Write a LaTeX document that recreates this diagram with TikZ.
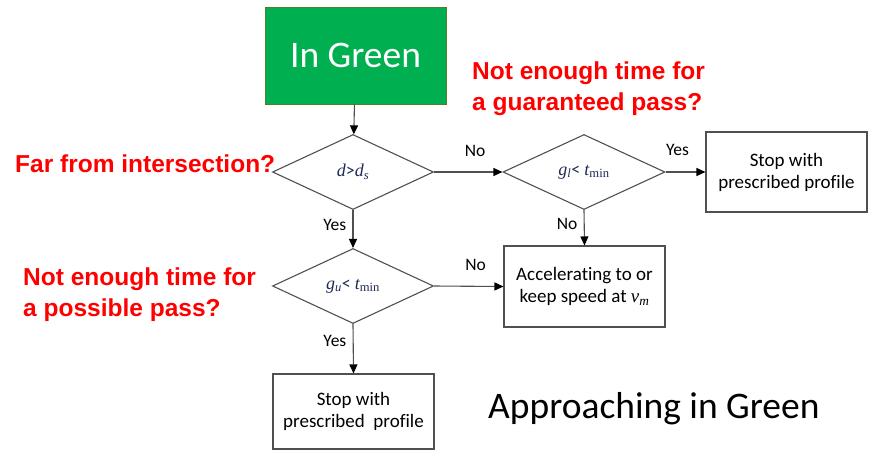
\documentclass[tikz,border=0pt]{standalone}
\usepackage{fontspec}
\setmainfont{Carlito}[Ligatures=NoCommon]
\newfontfamily\tms{Liberation Serif}
\newfontfamily\arialbold{Liberation Sans}[BoldFont=* Bold]
\usetikzlibrary{shapes.geometric,arrows.meta}

\definecolor{boxgreen}{HTML}{00B050}
\definecolor{greenedge}{HTML}{507E32}
\definecolor{edgegray}{HTML}{505050}
\definecolor{mathnavy}{HTML}{1F2A55}
\definecolor{notered}{HTML}{FF0000}

% italic Times-like variable, optional subscript
\newcommand{\vr}[1]{{\tms\itshape #1}}
\newcommand{\vsub}[1]{\textsubscript{\tms\itshape #1}}
\newcommand{\tmin}{\vr{t}\textsubscript{\tms min}}

\tikzset{
  decision/.style={draw=edgegray, line width=1.1pt, diamond, inner sep=0pt,
    minimum width=#1, minimum height=75pt, font=\fontsize{18}{20}\selectfont\color{mathnavy}},
  decision/.default=161pt,
  actionbox/.style={draw=edgegray, line width=1.1pt, rectangle, inner sep=0pt,
    minimum width=161pt, align=center, font=\fontsize{19}{22}\selectfont},
  flow/.style={draw=edgegray, line width=1.1pt,
    -{Triangle[length=9pt,width=8pt,fill=black,color=black]}},
  answer/.style={font=\fontsize{17.5}{20}\selectfont},
  remark/.style={text=notered, font=\fontsize{24.5}{31}\arialbold\bfseries, align=left, inner sep=0pt},
}

\begin{document}
\begin{tikzpicture}[x=1pt, y=-1pt]
  \useasboundingbox (0,0) rectangle (891,451);

  % start state
  \node[draw=greenedge, line width=1pt, fill=boxgreen, minimum width=181pt, minimum height=97pt,
        inner sep=0pt, text=white, font=\fontsize{37.5}{40}\selectfont] (start) at (355.5,55.5) {In Green};

  % decisions
  \node[decision] (far) at (353,172) {\vr{d}>\vr{d}\vsub{s}};
  \node[decision=162pt] (guar) at (584,172) {\vr{g}\vsub{l}< \tmin};
  \node[decision] (poss) at (353,286) {\vr{g}\vsub{u}< \tmin};

  % outcomes
  \node[actionbox, minimum height=80pt] (stopA) at (786.5,172) {Stop with\\prescribed profile};
  \node[actionbox, minimum height=81pt] (accel) at (584.5,286.5) {Accelerating to or\\keep speed at \vr{v}\vsub{m}};
  \node[actionbox, minimum height=75pt] (stopB) at (353.5,411.5) {Stop with\\prescribed\ \ profile};

  % connectors
  \draw[flow] (start) -- (far);
  \draw[flow] (far.east) -- node[answer, above=12pt, pos=0.6] {No} (guar.west);
  \draw[flow] (guar.east) -- node[answer, above=12pt, pos=0.3] {Yes} (stopA.west);
  \draw[flow] (guar.south) -- node[answer, left=3pt, pos=0.4] {No} (accel.north);
  \draw[flow] (far.south) -- node[answer, left=3pt, pos=0.4] {Yes} (poss.north);
  \draw[flow] (poss.east) -- node[answer, above=12pt, pos=0.6] {No} (accel.west);
  \draw[flow] (poss.south) -- node[answer, left=3pt, pos=0.35] {Yes} (stopB.north);

  % annotations
  \node[remark, anchor=north west] (qguar) at (472,62) {Not enough time for\\a guaranteed pass?};
  \node[remark, anchor=north west] (qfar) at (15,155) {Far from intersection?};
  \node[remark, anchor=north west] (qposs) at (23,268) {Not enough time for\\a possible pass?};

  \node[font=\fontsize{37.5}{40}\selectfont, anchor=base west, inner sep=0pt] (title) at (488,418) {Approaching in Green};
\end{tikzpicture}
\end{document}
